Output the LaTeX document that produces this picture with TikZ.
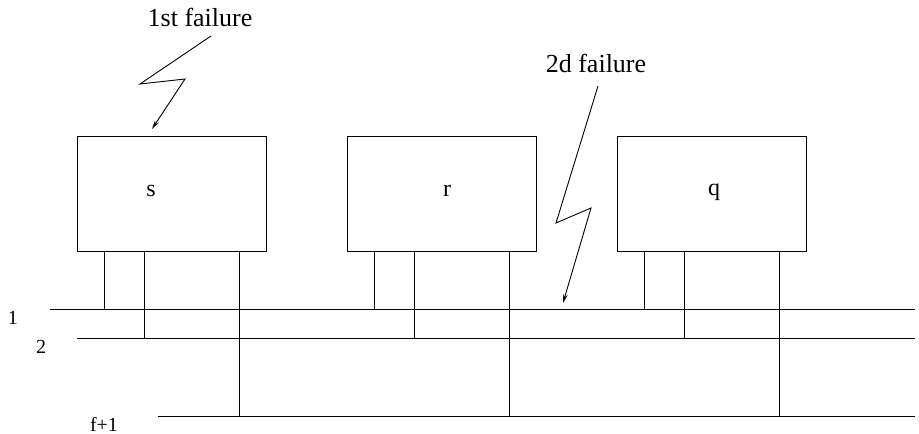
\documentclass[tikz,border=0pt]{standalone}
\usepackage{fontspec}
\setmainfont{Liberation Serif}
\usetikzlibrary{arrows.meta}
\begin{document}
\begin{tikzpicture}[x=1pt,y=-1pt,
  proc/.style={draw,line width=0.9pt,minimum width=189pt,minimum height=115pt,inner sep=0pt,font=\fontsize{22}{22}\selectfont},
  wire/.style={line width=0.9pt},
  lbl/.style={font=\fontsize{20}{20}\selectfont,inner sep=0pt},
  plbl/.style={font=\fontsize{24}{24}\selectfont,inner sep=0pt},
  flbl/.style={font=\fontsize{26}{26}\selectfont,inner sep=0pt},
  bolt/.style={line width=0.9pt,-{Stealth[length=9pt,width=4.5pt]}}]
\useasboundingbox (0,0) rectangle (919,434);
% processes
\node[proc] (s) at (171.5,193.5) {};
\node[proc] (r) at (441.5,193.5) {};
\node[proc] (q) at (711.5,193.5) {};
\node[plbl] (ts) at (151,191) {s};
\node[plbl] (tr) at (447,191) {r};
\node[plbl] (tq) at (714,192) {q};
% buses
\coordinate (b1a) at (50,309);  \coordinate (b1b) at (915,309);
\coordinate (b2a) at (77,338);  \coordinate (b2b) at (915,338);
\coordinate (b3a) at (158,416); \coordinate (b3b) at (915,416);
\draw[wire] (b1a) -- (b1b);
\draw[wire] (b2a) -- (b2b);
\draw[wire] (b3a) -- (b3b);
\node[lbl] (l1) at (13,318) {1};
\node[lbl] (l2) at (41,347) {2};
\node[lbl] (l3) at (104,424) {f+1};
% taps
\foreach \n/\x in {s/77,r/347,q/617}{
  \draw[wire] (\x+27,251) -- (\x+27,309);
  \draw[wire] (\x+67,251) -- (\x+67,338);
  \draw[wire] (\x+162,251) -- (\x+162,416);
}
% failures
\node[flbl] (f1) at (200,17) {1st failure};
\node[flbl] (f2) at (596,63) {2d failure};
\coordinate (a1) at (211,36);
\coordinate (a2) at (140,84);
\coordinate (a3) at (185,79);
\coordinate (a4) at (152,129);
\draw[bolt] (a1) -- (a2) -- (a3) -- (a4);
\coordinate (c1) at (598,86);
\coordinate (c2) at (556,223);
\coordinate (c3) at (591,208);
\coordinate (c4) at (563,303);
\draw[bolt] (c1) -- (c2) -- (c3) -- (c4);
\end{tikzpicture}
\end{document}
